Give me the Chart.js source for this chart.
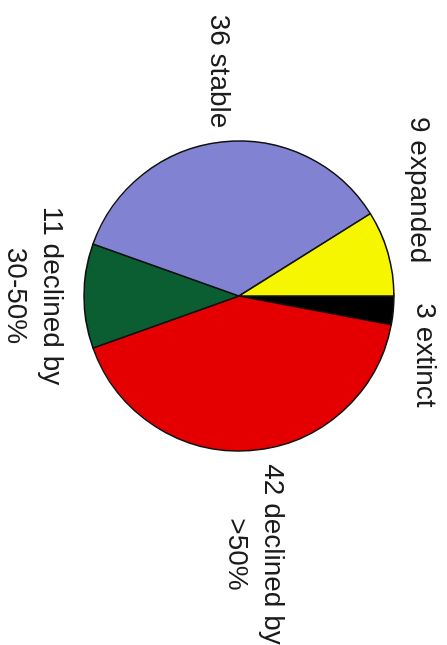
<!DOCTYPE html>
<html>
<head>
<meta charset="utf-8">
<title>Population trends</title>
<script src="https://cdn.jsdelivr.net/npm/chart.js@4/dist/chart.umd.min.js"></script>
<style>
  html, body { margin: 0; padding: 0; background: #fff; overflow: hidden; }
  body { width: 447px; height: 645px; position: relative; }
  /* the chart is laid out landscape and turned a quarter turn clockwise */
  #wrap {
    position: absolute; left: 0; top: 0;
    width: 645px; height: 447px;
    transform-origin: 0 0;
    transform: translate(447px, 0) rotate(90deg);
  }
</style>
</head>
<body>
<div id="wrap"><canvas id="myChart" width="645" height="447"></canvas></div>
<script>
const values = [3, 42, 11, 36, 9];
const categories = [
  ['extinct'],
  ['declined by', '>50%'],
  ['declined by', '30-50%'],
  ['stable'],
  ['expanded']
];
const colors = ['#000000', '#e40000', '#0a5e32', '#8282d2', '#f6f600'];

// label text: count in front of the first line
const labels = categories.map((lines, i) =>
  lines.map((l, k) => (k === 0 ? values[i] + ' ' + l : l)));

// draws the labels just outside each slice, pushing crowded ones apart
const outsideLabels = {
  id: 'outsideLabels',
  afterDatasetsDraw(chart, args, opts) {
    const ctx = chart.ctx;
    const meta = chart.getDatasetMeta(0);
    ctx.save();
    ctx.font = opts.size + 'px ' + opts.family;
    ctx.fillStyle = opts.color;
    ctx.textAlign = 'center';
    ctx.textBaseline = 'middle';

    const boxes = meta.data.map((arc, i) => {
      const p = arc.getProps(['x', 'y', 'startAngle', 'endAngle', 'outerRadius'], true);
      const mid = (p.startAngle + p.endAngle) / 2;
      const lines = chart.data.labels[i];
      const w = Math.max(...lines.map(l => ctx.measureText(l).width));
      const h = lines.length * opts.lineHeight;
      const r = p.outerRadius + opts.gap;
      return {
        lines, w, h,
        cx: p.x + Math.cos(mid) * (r + w / 2),
        cy: p.y + Math.sin(mid) * (r + h / 2)
      };
    });

    for (let i = 0; i < boxes.length; i++) {
      for (let j = i + 1; j < boxes.length; j++) {
        const a = boxes[i], b = boxes[j];
        if (Math.abs(a.cy - b.cy) > (a.h + b.h) / 2) continue;
        const need = (a.w + b.w) / 2 + opts.spacing - Math.abs(a.cx - b.cx);
        if (need <= 0) continue;
        const [left, right] = a.cx < b.cx ? [a, b] : [b, a];
        left.cx -= need / 2;
        right.cx += need / 2;
      }
    }

    boxes.forEach(b => {
      b.lines.forEach((line, k) => {
        ctx.fillText(line, b.cx, b.cy - b.h / 2 + opts.lineHeight * (k + 0.5));
      });
    });
    ctx.restore();
  }
};

const ctx = document.getElementById('myChart').getContext('2d');

const myChart = new Chart(ctx, {
  type: 'pie',
  data: {
    labels: labels,
    datasets: [{
      data: values,
      backgroundColor: colors,
      borderColor: '#111111',
      borderWidth: 1.5
    }]
  },
  options: {
    responsive: false,
    animation: false,
    radius: 155,
    layout: { padding: { left: 0, top: 0, right: 53, bottom: 31 } },
    plugins: {
      legend: { display: false },
      tooltip: { enabled: false },
      outsideLabels: {
        family: '"Liberation Sans", Arial, sans-serif',
        size: 28,
        lineHeight: 36,
        color: '#1c1c1c',
        gap: 14,
        spacing: 40
      }
    }
  },
  plugins: [outsideLabels]
});
</script>
</body>
</html>
